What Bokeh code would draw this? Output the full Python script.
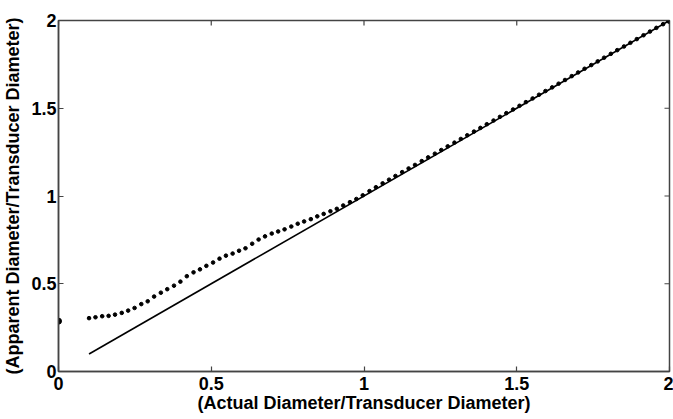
import math
from bokeh.plotting import figure
from bokeh.models import Range1d, FixedTicker
from bokeh.embed import file_html
from bokeh.resources import INLINE

# Solid reference line (apparent = actual)
line_x = [0.1, 2.0]
line_y = [0.1, 2.0]

# Dotted series: apparent diameter vs actual diameter
dot_x = [0.100, 0.121, 0.143, 0.164, 0.185, 0.207, 0.228, 0.249, 0.271, 0.292,
         0.313, 0.335, 0.356, 0.378, 0.399, 0.420, 0.442, 0.463, 0.484, 0.506,
         0.527, 0.548, 0.570, 0.591, 0.612, 0.634, 0.655, 0.676, 0.698, 0.719,
         0.740, 0.762, 0.783, 0.804, 0.826, 0.847, 0.868, 0.890, 0.911, 0.932,
         0.954, 0.975, 0.996, 1.018, 1.039, 1.061, 1.082, 1.103, 1.125, 1.146,
         1.167, 1.189, 1.210, 1.232, 1.253, 1.274, 1.296, 1.317, 1.338, 1.360,
         1.381, 1.402, 1.424, 1.445, 1.466, 1.488, 1.509, 1.530, 1.552, 1.573,
         1.594, 1.616, 1.637, 1.658, 1.680, 1.701, 1.722, 1.744, 1.765, 1.786,
         1.808, 1.829, 1.851, 1.872, 1.893, 1.915, 1.936, 1.957, 1.979, 2.000]
dot_y = [0.304, 0.309, 0.315, 0.317, 0.324, 0.334, 0.347, 0.362, 0.384, 0.400,
         0.427, 0.449, 0.469, 0.489, 0.512, 0.543, 0.565, 0.582, 0.602, 0.621,
         0.643, 0.660, 0.672, 0.688, 0.702, 0.728, 0.752, 0.770, 0.786, 0.798,
         0.810, 0.826, 0.842, 0.855, 0.868, 0.884, 0.898, 0.913, 0.927, 0.946,
         0.965, 0.983, 1.004, 1.028, 1.050, 1.072, 1.093, 1.114, 1.136, 1.157,
         1.177, 1.199, 1.220, 1.241, 1.262, 1.283, 1.304, 1.325, 1.346, 1.367,
         1.388, 1.409, 1.430, 1.451, 1.472, 1.493, 1.514, 1.535, 1.556, 1.577,
         1.598, 1.619, 1.640, 1.661, 1.683, 1.704, 1.725, 1.746, 1.767, 1.788,
         1.810, 1.831, 1.852, 1.873, 1.894, 1.916, 1.937, 1.958, 1.979, 2.000]

# Single marker on the y axis and at the end point
marker_x = [0.0, 2.0]
marker_y = [0.287, 2.0]

ticks = [0, 0.5, 1, 1.5, 2]
x_title = "(Actual Diameter/Transducer Diameter)"
y_title = "(Apparent Diameter/Transducer Diameter)"

FONT = "Liberation Sans"
AX = "#444444"

p = figure(width=673, height=419, output_backend="svg", toolbar_location=None,
           x_range=Range1d(0, 2), y_range=Range1d(0, 2),
           min_border_left=58, min_border_right=4, min_border_top=20, min_border_bottom=48)
p.grid.visible = False
p.background_fill_color = "white"
p.border_fill_color = "white"
p.outline_line_color = AX
p.outline_line_width = 1.5

p.line(line_x, line_y, line_color="black", line_width=1.6)
p.scatter(dot_x, dot_y, size=3.6, color="black")
p.scatter(marker_x, marker_y, size=6, color="black")

# inward ticks on the top and right edges (half of each dash is clipped by the frame)
top_y = [2] * len(ticks)
right_x = [2] * len(ticks)
p.scatter(ticks, top_y, marker="dash", size=10, angle=math.pi / 2,
          line_color=AX, line_width=1.2)
p.scatter(right_x, ticks, marker="dash", size=10,
          line_color=AX, line_width=1.2)

for ax in (p.xaxis[0], p.yaxis[0]):
    ax.ticker = FixedTicker(ticks=ticks)
    ax.major_tick_in = 5
    ax.major_tick_out = 0
    ax.minor_tick_in = 0
    ax.minor_tick_out = 0
    ax.axis_line_color = AX
    ax.axis_line_width = 1.5
    ax.major_tick_line_color = AX
    ax.major_tick_line_width = 1.2
    ax.major_label_text_font = FONT
    ax.major_label_text_font_style = "bold"
    ax.major_label_text_font_size = "18px"
    ax.major_label_text_color = "black"
    ax.axis_label_text_font = FONT
    ax.axis_label_text_font_style = "bold"
    ax.axis_label_text_font_size = "18px"
    ax.axis_label_text_color = "black"

p.xaxis[0].axis_label = x_title
p.yaxis[0].axis_label = y_title
p.xaxis[0].major_label_standoff = 5
p.xaxis[0].axis_label_standoff = 0
p.yaxis[0].major_label_standoff = 2
p.yaxis[0].axis_label_standoff = 5

open("out.html", "w").write(file_html(p, INLINE))
